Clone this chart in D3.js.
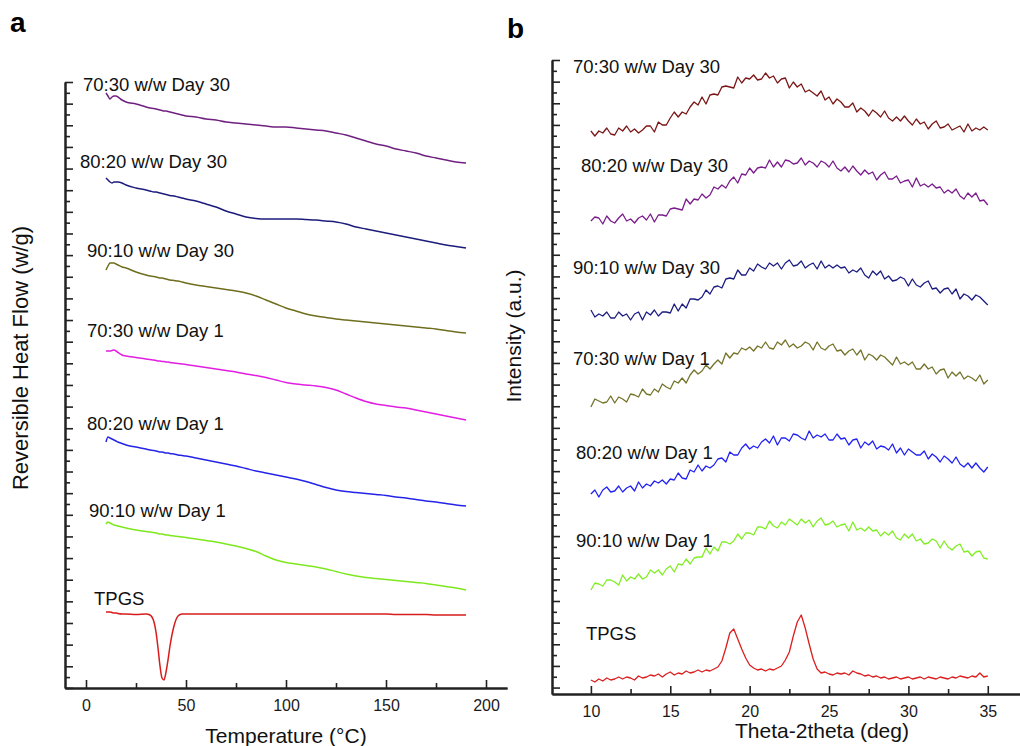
<!DOCTYPE html>
<html>
<head>
<meta charset="utf-8">
<script src="https://cdn.jsdelivr.net/npm/d3@7"></script>
<style>
  body { margin: 0; background: #fff; }
  svg { display: block; font-family: "Liberation Sans", Arial, sans-serif; }
</style>
</head>
<body>
<svg id="chart" width="1020" height="746"></svg>
<script>
// ---------- data : panel a (DSC, reversible heat flow, stacked, arbitrary units) ----------
const tempC = [10,11,12,13,14,15,16,18,20,25,30,32,34,35,36,37,38,39,40,41,42,44,46,48,50,
  55,60,65,70,75,80,85,90,95,100,105,110,115,120,125,130,135,140,145,150,155,160,165,170,175,180,185,190];

const dsc7030d30 = [595,592,589,591,592,592,591,588,586,584,581,580,579.5,579,578.5,578,577.5,577,577,576.5,576,575,574,573,572,
  571,569,568,566,565,564,563,562,561,561,560,559,558,557,555,553,550,547,544,542,539,537,535,532,530,528,526,525];
const dsc8020d30 = [510,508,506,505,506,506,506,505,503,500,498,497,496,496,495.5,495,494.5,494,493.5,493,492.5,492,491,490,489,
  487,484,481,477,474,471,469.5,469,469,469,469,468.5,468,467,466,464,461,459,457,455,453,451,449,447,445,443,441.5,440];
const dsc9010d30 = [418,422,425,425,425,424,423,421,420,416,413,412,411.5,411,410.5,410,410,409.5,409,408.5,408,407.5,407,406,405,
  403,401.5,400,398.5,397,395,392,388,384,380,377,374,372,370.5,369,368,367,366,365,364,363,362,361,360,359,357.5,356,355];
const dsc7030d1 = [337,337,337,337.5,338,337,335.5,333,332,330.5,329,328.5,328,327.5,327,327,326.5,326.5,326,326,325.5,325,324.5,324,323.5,
  322,320.5,319,317.5,316,314,312.5,310.5,308,305.5,304,303,302,300.5,298,294,290,286.5,284,282.5,281,280,278,276,274,272,270,268];
const dsc8020d1 = [246,251,250,249,248,247,246,244.5,243,241,239,238,237.5,237,236.5,236,236,235.5,235,235,234.5,234,233,232.5,232,
  230,228,226,224,222,219.5,217,215,213,211,209,206.5,203.5,200.5,198,196.5,195.5,194.5,193.5,192.5,191,190,188.5,187,186,184.5,183,182];
const dsc9010d1 = [164,166,165,164,163,162.5,162,161,160,158,156.5,156,155.5,155,154.5,154,154,153.5,153,153,152.5,152,151.5,151,150.5,
  149,147.5,146,144,142,139.5,136.5,132,128,125.5,124,122.5,121,119,116.5,114,112,110.5,109.5,108.5,107.5,106.5,105.5,104.5,103,101.5,100,98];
const dscTPGS = [76,76,76,75.5,75,75,74.5,74,74,73.5,74,73,66,56,40,22,10,8,16,28,42,62,72,74,74,
  74,74,74,74,74,74,74,74,74,74,74,74,74,74,74,74,74,74,74,74,73.5,73.5,73.5,73.5,73,73,73,73];

const dscNames = ["70:30 w/w Day 30","80:20 w/w Day 30","90:10 w/w Day 30","70:30 w/w Day 1","80:20 w/w Day 1","90:10 w/w Day 1","TPGS"];
const dscColors = ["#6f2080","#1c1c7c","#6e6e1e","#e21ee2","#2424e8","#7ee81e","#d81c1c"];
const dscSeries = [dsc7030d30, dsc8020d30, dsc9010d30, dsc7030d1, dsc8020d1, dsc9010d1, dscTPGS];
const tempMajor = [0,50,100,150,200];
const tempMinor = [25,75,125,175];

// ---------- data : panel b (XRD, stacked intensity, arbitrary units) ----------
const twoTheta = [10,10.25,10.5,10.75,11,11.25,11.5,11.75,12,12.25,12.5,12.75,13,13.25,13.5,13.75,14,14.25,14.5,14.75,
  15,15.25,15.5,15.75,16,16.25,16.5,16.75,17,17.25,17.5,17.75,18,18.25,18.5,18.75,19,19.25,19.5,19.75,
  20,20.25,20.5,20.75,21,21.25,21.5,21.75,22,22.25,22.5,22.75,23,23.25,23.5,23.75,24,24.25,24.5,24.75,
  25,25.25,25.5,25.75,26,26.25,26.5,26.75,27,27.25,27.5,27.75,28,28.25,28.5,28.75,29,29.25,29.5,29.75,
  30,30.25,30.5,30.75,31,31.25,31.5,31.75,32,32.25,32.5,32.75,33,33.25,33.5,33.75,34,34.25,34.5,34.75,35];

const xrd7030d30 = [563,558,563,561,566,560,559,566,563,568,562,565,561,564,568,568,562,572,569,569,
  576,582,577,582,580,587,592,589,597,590,599,600,599,607,608,607,606,617,611,616,
  615,619,614,615,621,616,618,611,615,616,606,612,607,610,602,604,601,598,603,594,
  597,590,595,592,587,587,591,582,586,583,578,584,581,577,583,576,573,577,573,578,
  573,569,575,570,572,565,570,573,566,567,570,564,566,568,562,570,563,566,564,567,564];
const xrd8020d30 = [473,477,476,470,478,473,471,476,480,473,475,471,476,478,474,480,472,479,479,478,
  485,486,485,484,495,490,495,494,500,496,499,507,505,509,506,513,517,511,520,519,
  526,521,526,527,526,534,527,532,527,534,533,530,531,536,529,533,531,527,533,531,
  527,533,526,523,527,522,528,523,519,524,520,522,514,519,522,515,515,518,511,513,
  514,507,516,508,510,507,510,506,507,501,504,501,505,498,495,501,497,501,493,494,489];
const xrd9010d30 = [384,377,380,378,382,376,376,382,378,380,374,380,382,374,382,379,384,378,382,382,
  381,390,383,390,386,395,395,394,397,404,400,407,408,406,415,416,415,424,419,419,
  426,423,430,427,425,431,428,431,425,431,434,428,429,433,426,429,431,425,433,426,
  429,426,429,426,427,421,424,422,426,419,416,423,419,423,415,418,413,414,417,415,
  408,415,409,407,411,413,405,406,401,405,406,400,405,395,400,398,394,399,397,393,389];
const xrd7030d1 = [287,295,293,291,292,298,291,297,295,292,300,299,297,305,300,299,305,302,310,307,
  305,313,311,316,311,319,324,320,323,329,325,330,334,330,341,336,341,340,346,344,
  347,343,348,346,352,346,345,352,349,354,347,350,346,348,352,350,344,352,346,344,
  348,350,343,344,339,343,345,339,344,334,340,338,334,339,337,333,329,337,330,332,
  329,332,325,325,330,325,327,320,324,325,316,322,318,322,315,318,316,313,319,310,314];
const xrd8020d1 = [200,204,197,204,207,202,203,208,202,206,208,203,212,206,210,208,213,211,214,210,
  215,214,221,216,215,224,222,229,223,228,226,229,235,236,232,242,239,239,246,250,
  245,248,246,252,255,251,258,249,256,256,253,260,259,256,254,263,256,259,257,260,
  254,254,260,255,256,249,254,255,246,252,249,253,245,248,247,244,250,241,246,239,
  245,242,239,239,243,235,240,237,232,238,235,231,237,230,227,231,226,231,226,222,227];
const xrd9010d1 = [104,111,110,108,114,114,112,109,119,113,117,115,120,115,117,124,121,124,119,125,
  128,122,130,129,135,130,136,137,137,146,140,147,143,152,152,150,153,160,155,161,
  161,159,167,167,165,173,168,166,172,169,175,172,169,175,171,174,167,173,176,169,
  170,173,167,169,170,163,172,164,166,163,167,163,164,158,162,159,163,156,154,160,
  156,160,153,155,150,151,155,153,146,153,147,144,148,150,142,143,138,142,143,136,135];
const xrdTPGS = [14,12,15,13,16,14,15,17,15,17,16,14,18,16,17,19,18,20,17,20,
  22,19,21,20,23,21,22,24,22,24,23,25,27,33,46,61,65,55,45,36,
  29,26,24,25,23,25,24,26,28,34,42,58,72,79,66,50,35,25,21,22,
  20,19,21,20,21,19,23,21,20,18,19,17,18,16,17,15,16,17,15,16,
  17,15,16,17,15,17,16,15,17,16,15,17,16,18,17,16,18,17,21,17,18];

const xrdNames = ["70:30 w/w Day 30","80:20 w/w Day 30","90:10 w/w Day 30","70:30 w/w Day 1","80:20 w/w Day 1","90:10 w/w Day 1","TPGS"];
const xrdColors = ["#7a1616","#7a1c8c","#1c1c82","#74742a","#2222f4","#80ee22","#dc1e1e"];
const xrdSeries = [xrd7030d30, xrd8020d30, xrd9010d30, xrd7030d1, xrd8020d1, xrd9010d1, xrdTPGS];
const thetaMajor = [10,15,20,25,30,35];
const thetaMinor = [12.5,17.5,22.5,27.5,32.5];

// ---------- layout ----------
const svg = d3.select("#chart");
svg.append("rect").attr("width", 1020).attr("height", 746).attr("fill", "#fff");

const xA = d3.scaleLinear().domain([-10.5, 210.5]).range([65, 507]);
const yA = d3.scaleLinear().domain([0, 606]).range([688, 82]);
const xB = d3.scaleLinear().domain([7.55, 37.03]).range([552, 1020]);
const yB = d3.scaleLinear().domain([0, 634]).range([694, 60]);

// label anchors in data units (x, y)
const dscLabelPos = [[-1.5,597],[-3,520],[0.5,431],[0.5,351],[0.5,258],[1.5,171],[4,83]];
const xrdLabelPos = [[8.87,621],[9.38,522],[8.87,420],[8.87,329],[9.06,235],[9.06,147],[9.69,54]];

function styleAxis(g) {
  g.select(".domain").attr("stroke", "#222").attr("stroke-width", 2);
  g.selectAll(".tick line").attr("stroke", "#222").attr("stroke-width", 1.6);
  g.selectAll(".tick text").attr("font-size", 16).attr("fill", "#1a1a1a")
    .attr("font-family", "Liberation Sans, Arial, sans-serif");
}

function drawPanel(x, y, yMax, bottom, major, minor) {
  // y axis ticks, unlabelled, alternating long / short
  const yt = d3.range(0, 59).map(k => yMax - k * 10.82).filter(v => v > 0);
  svg.append("g").attr("transform", `translate(${x.range()[0]},0)`)
    .call(d3.axisLeft(y).tickValues(yt.filter((v, i) => i % 2 === 1)).tickSize(-5).tickSizeOuter(0).tickFormat(""))
    .call(styleAxis);
  svg.append("g").attr("transform", `translate(${x.range()[0]},0)`)
    .call(d3.axisLeft(y).tickValues(yt.filter((v, i) => i % 2 === 0)).tickSize(-8).tickSizeOuter(0).tickFormat(""))
    .call(styleAxis);

  svg.append("g").attr("transform", `translate(0,${bottom})`)
    .call(d3.axisBottom(x).tickValues(minor).tickSize(-5).tickSizeOuter(0).tickFormat(""))
    .call(styleAxis);
  svg.append("g").attr("transform", `translate(0,${bottom})`)
    .call(d3.axisBottom(x).tickValues(major).tickSize(-8).tickSizeOuter(0).tickPadding(12))
    .call(styleAxis);
}

drawPanel(xA, yA, 606, 688, tempMajor, tempMinor);
drawPanel(xB, yB, 634, 694, thetaMajor, thetaMinor);

// ---------- curves ----------
dscSeries.forEach((vals, s) => {
  const line = d3.line().x((d, i) => xA(tempC[i])).y(d => yA(d)).curve(d3.curveMonotoneX);
  svg.append("path").datum(vals).attr("d", line)
    .attr("fill", "none").attr("stroke", dscColors[s]).attr("stroke-width", 1.5);
  svg.append("text").attr("x", xA(dscLabelPos[s][0])).attr("y", yA(dscLabelPos[s][1]))
    .attr("font-size", 18.5).attr("fill", "#111").text(dscNames[s]);
});

xrdSeries.forEach((vals, s) => {
  const line = d3.line().x((d, i) => xB(twoTheta[i])).y(d => yB(d));
  svg.append("path").datum(vals).attr("d", line)
    .attr("fill", "none").attr("stroke", xrdColors[s]).attr("stroke-width", 1.3)
    .attr("stroke-linejoin", "round");
  svg.append("text").attr("x", xB(xrdLabelPos[s][0])).attr("y", yB(xrdLabelPos[s][1]))
    .attr("font-size", 18.5).attr("fill", "#111").text(xrdNames[s]);
});

// ---------- titles ----------
svg.append("text").attr("x", 10).attr("y", 32).attr("font-size", 28).attr("font-weight", "bold").text("a");
svg.append("text").attr("x", 507).attr("y", 38).attr("font-size", 28).attr("font-weight", "bold").text("b");

svg.append("text").attr("transform", "translate(28,358) rotate(-90)").attr("text-anchor", "middle")
  .attr("font-size", 22).attr("fill", "#111").text("Reversible Heat Flow (w/g)");
svg.append("text").attr("x", 286).attr("y", 743).attr("text-anchor", "middle")
  .attr("font-size", 21).attr("fill", "#111").text("Temperature (°C)");
svg.append("text").attr("transform", "translate(521,336) rotate(-90)").attr("text-anchor", "middle")
  .attr("font-size", 21).attr("fill", "#111").text("Intensity (a.u.)");
svg.append("text").attr("x", 822).attr("y", 738).attr("text-anchor", "middle")
  .attr("font-size", 21).attr("fill", "#111").text("Theta-2theta (deg)");
</script>
</body>
</html>
